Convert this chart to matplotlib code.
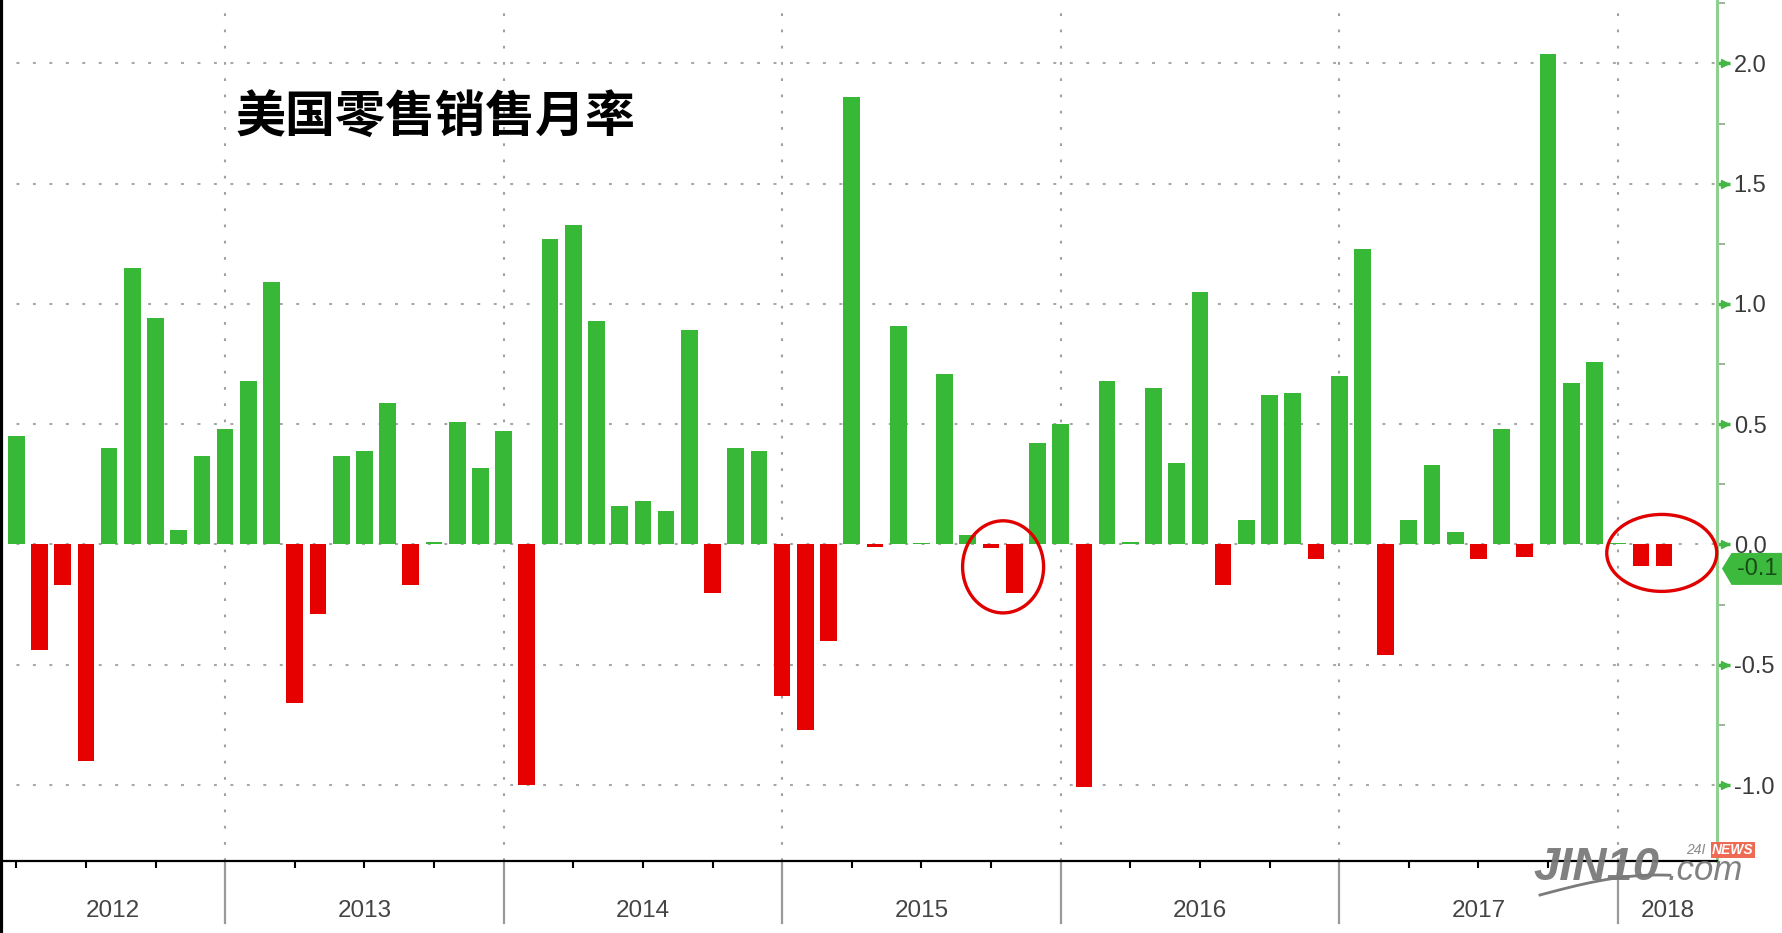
import matplotlib.pyplot as plt
import matplotlib.transforms as mtransforms
from matplotlib.patches import Ellipse, Polygon
from matplotlib.lines import Line2D
import numpy as np
import pandas as pd

plt.rcParams['font.family'] = ['Liberation Sans', 'DejaVu Sans']

# Данные: месячное изменение розничных продаж США, март 2012 - февраль 2018
months = pd.period_range('2012-03', '2018-02', freq='M')
values = [
    0.45, -0.44, -0.17, -0.90, 0.40, 1.15, 0.94, 0.06, 0.37, 0.48,               # 2012
    0.68, 1.09, -0.66, -0.29, 0.37, 0.39, 0.59, -0.17, 0.01, 0.51, 0.32, 0.47,  # 2013
    -1.00, 1.27, 1.33, 0.93, 0.16, 0.18, 0.14, 0.89, -0.20, 0.40, 0.39, -0.63,  # 2014
    -0.77, -0.40, 1.86, -0.01, 0.91, 0.005, 0.71, 0.04, -0.015, -0.20, 0.42, 0.50,  # 2015
    -1.01, 0.68, 0.01, 0.65, 0.34, 1.05, -0.17, 0.10, 0.62, 0.63, -0.06, 0.70,  # 2016
    1.23, -0.46, 0.10, 0.33, 0.05, -0.06, 0.48, -0.05, 2.04, 0.67, 0.76, 0.005,  # 2017
    -0.09, -0.09,                                                                 # 2018
]
years = ['2012', '2013', '2014', '2015', '2016', '2017', '2018']
yticks = [-1.0, -0.5, 0.0, 0.5, 1.0, 1.5, 2.0]
last_value_label = '-0.1'
title = '美国零售销售月率'

x = np.arange(len(values))
colors = ['#37b837' if v >= 0 else '#e60000' for v in values]

W, H = 1783, 933
fig = plt.figure(figsize=(W / 100, H / 100), dpi=100)
ax = fig.add_axes([0, 1 - 861 / H, 1717 / W, 861 / H])

ax.bar(x, values, width=0.72, color=colors, zorder=3)
xmin, xmax = -0.70, 73.28
ax.set_xlim(xmin, xmax)
ax.set_ylim(-1.316, 2.264)

# сетка
ax.set_axisbelow(True)
ax.set_yticks(yticks)
ax.set_yticks(np.arange(-1.25, 2.3, 0.5), minor=True)
ax.yaxis.grid(True, which='major', linestyle=(0, (1.4, 6.5)), color='#a8a8a8', lw=1.5)
boundaries = x[months.month == 12]
for b in boundaries:
    ax.axvline(b, linestyle=(0, (1.3, 6.5)), color='#a0a0a0', lw=1.5, zorder=1)

# оси
for s in ['top', 'left']:
    ax.spines[s].set_visible(False)
ax.spines['bottom'].set_color('black')
ax.spines['bottom'].set_linewidth(1.6)
ax.spines['right'].set_color('#8fd08f')
ax.spines['right'].set_linewidth(2.2)

ax.yaxis.tick_right()
ax.tick_params(axis='y', which='major', length=9, width=2.5, color='#45b545',
               labelsize=17, labelcolor='#3a3a3a', pad=3)
ax.tick_params(axis='y', which='minor', length=6, width=1.2, color='#8aa88a')
ax.set_yticklabels([f'{t:.1f}' for t in yticks])
tr_arrow = mtransforms.blended_transform_factory(ax.transAxes, ax.transData)
ax.plot([1.0045] * len(yticks), yticks, linestyle='none', marker='>', markersize=6,
        color='#45b545', transform=tr_arrow, clip_on=False, zorder=4)

quarters = x[np.isin(months.month, [3, 6, 9])]
ax.set_xticks(quarters)
ax.set_xticklabels([])
ax.tick_params(axis='x', direction='out', length=5, width=1.5, color='black')

# разделители лет и подписи
tr_x = mtransforms.blended_transform_factory(ax.transData, ax.transAxes)
for b in boundaries:
    ax.plot([b, b], [0, -0.072], color='#9a9a9a', lw=1.6, transform=tr_x, clip_on=False)
edges = [xmin] + list(boundaries) + [xmax]
for i, yr in enumerate(years):
    c = (edges[i] + edges[i + 1]) / 2
    ax.text(c, -0.058, yr, transform=tr_x, ha='center', va='center',
            fontsize=17.5, color='#444444')

# красные круги
ax.add_patch(Ellipse((42.52, -0.093), 3.49, 0.383, fill=False, ec='#e00000',
                     lw=2.4, zorder=5, clip_on=False))
ax.add_patch(Ellipse((70.9, -0.035), 4.74, 0.32, fill=False, ec='#e00000',
                     lw=2.4, zorder=5, clip_on=False))

# метка последнего значения
poly = Polygon([(1.0029, -0.1), (1.0085, -0.035), (1.06, -0.035),
                (1.06, -0.168), (1.0085, -0.168)], closed=True,
               facecolor='#3dba3d', edgecolor='none', transform=tr_arrow,
               clip_on=False, zorder=6)
ax.add_patch(poly)
ax.text(1.0115, -0.1, last_value_label, transform=tr_arrow, va='center', ha='left',
        fontsize=17, color='#174d17', zorder=7, clip_on=False)

# заголовок
fig.text(236 / W, 1 - 117 / H, title, fontsize=36, fontweight='bold',
         family=['Noto Sans CJK SC', 'DejaVu Sans'], va='center', ha='left', color='black')

# водяной знак
fig.text(1533 / W, 1 - 880 / H, 'JIN10', fontsize=34, fontweight='bold', style='italic',
         color='#7a7a7a', va='baseline', alpha=0.95)
fig.text(1668 / W, 1 - 880 / H, '.com', fontsize=25, style='italic',
         color='#7a7a7a', va='baseline', alpha=0.95)
fig.text(1686 / W, 1 - 854 / H, '24I', fontsize=10, style='italic', color='#8a8a8a',
         va='baseline')
fig.text(1712 / W, 1 - 854 / H, 'NEWS', fontsize=10, fontweight='bold', style='italic',
         color='white', va='baseline',
         bbox=dict(boxstyle='square,pad=0.1', fc='#ef6a55', ec='none'))
t = np.linspace(0, 1, 30)
sx = 1540 + 130 * t
sy = 895 - 20 * np.sin(t * np.pi * 0.55)
fig.add_artist(Line2D(sx / W, 1 - sy / H, transform=fig.transFigure, color='#7a7a7a', lw=2))

# чёрная рамка слева
fig.add_artist(Line2D([0.0008, 0.0008], [0, 1], transform=fig.transFigure,
                      color='black', lw=3))

fig.savefig('out.png', dpi=100)
